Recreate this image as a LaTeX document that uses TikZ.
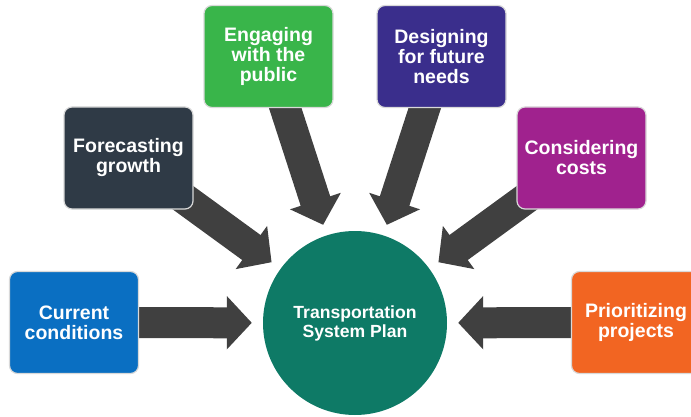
\documentclass[tikz,border=0pt]{standalone}
\usepackage{fontspec}
\setsansfont{Liberation Sans}
\usetikzlibrary{arrows.meta,backgrounds}
\definecolor{curBlue}{HTML}{0A6FC2}
\definecolor{foreSlate}{HTML}{2F3A46}
\definecolor{engageGreen}{HTML}{39B54A}
\definecolor{designPurple}{HTML}{3A2E8C}
\definecolor{costMagenta}{HTML}{A0228E}
\definecolor{prioOrange}{HTML}{F26522}
\definecolor{planTeal}{HTML}{0E7A66}
\definecolor{arrowGray}{HTML}{404040}
\tikzset{
  topic/.style={rectangle, rounded corners=8pt, draw=gray!30, line width=1.2pt, text=white,
    minimum width=129pt, minimum height=102pt, align=center,
    font=\sffamily\bfseries\fontsize{19.5}{20}\selectfont},
  planNode/.style={circle, fill=planTeal, text=white, minimum size=184pt, inner sep=0pt,
    align=center, font=\sffamily\bfseries\fontsize{17.6}{19}\selectfont},
  feedArrow/.style={-{Triangle[length=25pt,width=52pt]}, line width=31pt, draw=arrowGray,
    shorten >=11pt}
}
\begin{document}
\begin{tikzpicture}[x=1pt, y=-1pt]
  \clip (0,0) rectangle (691,417);
  \node [planNode] (plan) at (355,323) {Transportation\\System Plan};
  \node [topic, fill=curBlue] (cur) at (74,322.5) {Current\\conditions};
  \node [topic, fill=foreSlate] (fore) at (128.5,158) {Forecasting\\growth};
  \node [topic, fill=engageGreen] (engage) at (268.5,56.5) {Engaging\\with the\\public};
  \node [topic, fill=designPurple] (design) at (441.5,56.5) {Designing\\for future\\needs};
  \node [topic, fill=costMagenta] (cost) at (581.5,158) {Considering\\costs};
  \node [topic, fill=prioOrange] (prio) at (636,322.5) {Prioritizing\\projects};
  \begin{scope}[on background layer]
    \foreach \src in {cur,fore,engage,design,cost,prio}
      \draw [feedArrow] (\src.center) -- (plan);
  \end{scope}
\end{tikzpicture}
\end{document}
